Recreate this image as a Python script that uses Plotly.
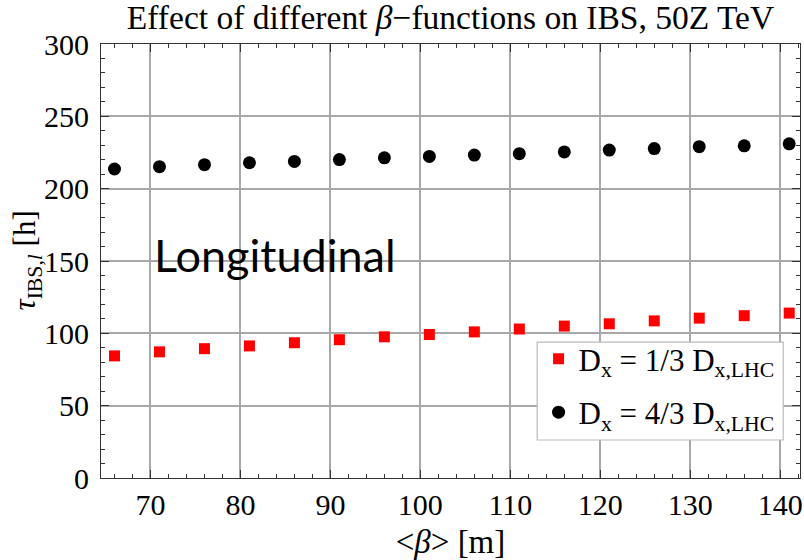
import plotly.graph_objects as go

beta = [66, 71, 76, 81, 86, 91, 96, 101, 106, 111, 116, 121, 126, 131, 136, 141]
tau_red = [84.4, 87.2, 89.4, 91.3, 93.5, 95.6, 97.6, 99.2, 101.0, 103.0, 105.0, 106.6, 108.6, 110.5, 112.2, 114.0]
tau_black = [213.6, 215.2, 216.6, 217.9, 218.8, 220.1, 221.3, 222.3, 223.2, 224.2, 225.4, 226.7, 227.7, 229.0, 229.6, 231.0]

names = ["D<sub>x</sub> = 1/3 D<sub>x,LHC</sub>", "D<sub>x</sub> = 4/3 D<sub>x,LHC</sub>"]
title = "Effect of different <i>β</i>−functions on IBS, 50Z TeV"
xlabel = "&lt;<i>β</i>&gt; [m]"
ylabel = "<i>τ</i><sub>IBS,<i>l</i></sub> [h]"
note = "Longitudinal"

serif = "Liberation Serif"

fig = go.Figure()
fig.add_trace(go.Scatter(x=beta, y=tau_red, mode="markers", name=names[0], legendgroup="a",
                         marker=dict(symbol="square", size=11, color="#ff0000")))
fig.add_trace(go.Scatter(x=beta, y=tau_black, mode="markers", name=names[1], legendgroup="b",
                         marker=dict(symbol="circle", size=13, color="#000000")))

fig.add_annotation(x=83.8, y=154, text=note, showarrow=False, xref="x", yref="y",
                   font=dict(family="Lato", size=45, color="black"))

# y-axis title
fig.add_annotation(x=-0.1054, y=0.502, xref="paper", yref="paper", text=ylabel, textangle=-90,
                   showarrow=False, xanchor="center", yanchor="middle",
                   font=dict(family=serif, size=31, color="black"))

# legend frame
fig.add_shape(type="rect", xref="paper", yref="paper", x0=0.624, x1=0.976, y0=0.0876, y1=0.313,
              line=dict(color="#bbbbbb", width=1.2), fillcolor="white", layer="above")

def axis_common():
    return dict(showline=True, linecolor="#333333", linewidth=1.2, mirror="allticks",
                ticks="inside", ticklen=8, tickcolor="#333333",
                showgrid=True, gridcolor="#a8a8a8", gridwidth=1.5, zeroline=False,
                ticklabeloverflow="allow",
                tickfont=dict(family=serif, size=30, color="black"))

fig.update_layout(
    width=804, height=560,
    font=dict(family=serif, color="black"),
    margin=dict(l=101, r=1, t=44, b=82),
    paper_bgcolor="white", plot_bgcolor="white",
    title=dict(text=title, x=0.5, xref="paper", y=0.97, yanchor="middle",
               font=dict(family=serif, size=33.5, color="black")),
    xaxis=dict(range=[64.5, 142.2], dtick=10, tick0=70,
               minor=dict(ticks="inside", dtick=2, ticklen=4, tickcolor="#333333", showgrid=False),
               title=dict(text=xlabel, standoff=9, font=dict(family=serif, size=33, color="black")),
               **axis_common()),
    yaxis=dict(range=[0, 300], dtick=50, tick0=0,
               minor=dict(ticks="inside", dtick=10, ticklen=4, tickcolor="#333333", showgrid=False),
               ticklabelstandoff=5,
               **axis_common()),
    legend=dict(x=0.626, y=0.336, xanchor="left", yanchor="top",
                borderwidth=0, bgcolor="rgba(0,0,0,0)",
                font=dict(family=serif, size=31, color="black"),
                traceorder="grouped", tracegroupgap=10),
    showlegend=True,
)

fig.write_html("out.html")
